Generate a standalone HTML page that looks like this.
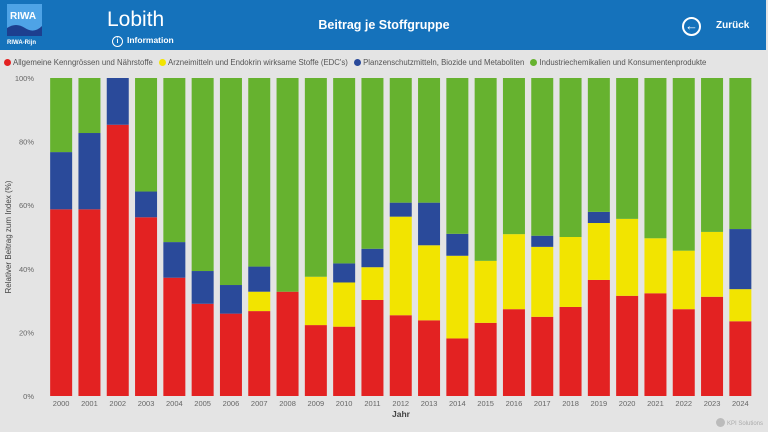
<!DOCTYPE html>
<html><head><meta charset="utf-8"><style>
body{margin:0;width:768px;height:432px;overflow:hidden;background:#e4e4e4;font-family:"Liberation Sans","DejaVu Sans",sans-serif;position:relative}
#hdr{position:absolute;left:0;top:0;width:766px;height:50px;background:#1572bb}
.t{position:absolute;color:#fff;white-space:nowrap}
#legend{position:absolute;left:4px;top:58px;font-size:7.8px;color:#555;white-space:nowrap}
.li{display:inline-block;margin-right:4px}
.dot{display:inline-block;width:7px;height:7px;border-radius:50%;vertical-align:-1px;margin-right:2px}
svg{position:absolute;left:0;top:0}
</style></head><body>
<div id="hdr">
 <div style="position:absolute;left:7px;top:4px;width:35px;height:44px">
  <div style="position:absolute;left:0;top:0;width:35px;height:32px;background:#4ea3e6"></div>
  <svg width="35" height="32" style="position:absolute;left:0;top:0"><path d="M0 24 Q9 18 18 24 T35 22 L35 32 L0 32Z" fill="#1d3f8f"/></svg>
  <div class="t" style="left:3px;top:7px;font-size:10px;font-weight:bold">RIWA</div>
  <div class="t" style="left:0;top:36px;font-size:6px;font-weight:bold">RIWA-Rijn</div>
 </div>
 <div class="t" style="left:107px;top:8px;font-size:21px">Lobith</div>
 <div class="t" style="left:112px;top:35px;font-size:8.5px;font-weight:bold"><span style="display:inline-block;width:9px;height:9px;border:1.3px solid #fff;border-radius:50%;text-align:center;line-height:9px;font-size:7px;margin-right:4px">i</span>Information</div>
 <div class="t" style="left:384px;top:18px;transform:translateX(-50%);font-size:12.5px;font-weight:bold">Beitrag je Stoffgruppe</div>
 <div style="position:absolute;left:682px;top:17px;width:15px;height:15px;border:2px solid #fff;border-radius:50%;color:#fff;font-size:13px;line-height:14px;text-align:center;font-weight:bold">←</div>
 <div class="t" style="left:716px;top:20px;font-size:10px;font-weight:bold">Zurück</div>
</div>
<div id="legend">
 <span class="li"><span class="dot" style="background:#e32222"></span>Allgemeine Kenngrössen und Nährstoffe</span>
 <span class="li"><span class="dot" style="background:#f2e400"></span>Arzneimitteln und Endokrin wirksame Stoffe (EDC's)</span>
 <span class="li"><span class="dot" style="background:#2a4a9a"></span>Planzenschutzmitteln, Biozide und Metaboliten</span>
 <span class="li"><span class="dot" style="background:#66b22f"></span>Industriechemikalien und Konsumentenprodukte</span>
</div>
<svg id="chart" width="768" height="432"></svg>
<div style="position:absolute;left:716px;top:418px;font-size:6px;color:#aaa"><span style="display:inline-block;width:9px;height:9px;border-radius:50%;background:#bbb;vertical-align:-2px;margin-right:2px"></span>KPI Solutions</div>
<script>
const years=["2000","2001","2002","2003","2004","2005","2006","2007","2008","2009","2010","2011","2012","2013","2014","2015","2016","2017","2018","2019","2020","2021","2022","2023","2024"];
const red=[58.7,58.7,85.3,56.2,37.2,29.0,25.9,26.7,32.8,22.3,21.8,30.2,25.4,23.8,18.1,23.0,27.3,24.9,28.0,36.5,31.5,32.3,27.3,31.2,23.5];
const yellow=[0,0,0,0,0,0,0,6.1,0,15.2,13.9,10.3,31.0,23.6,26.0,19.5,23.6,22.0,22.0,17.9,24.2,17.3,18.4,20.4,10.1];
const blue=[18.0,24.0,14.7,8.1,11.2,10.3,9.0,7.9,0,0,6.0,5.8,4.4,13.4,6.9,0,0,3.5,0,3.5,0,0,0,0,18.9];
const yTicks=[0,20,40,60,80,100];
const NS='http://www.w3.org/2000/svg';
const svg=document.getElementById('chart');
const x0=47,bandW=28.3,barW=22,yTop=78,yBot=396;
const y=v=>yBot-(v/100)*(yBot-yTop);
const bx=i=>x0+i*bandW+(bandW-barW)/2;
function mk(tag,at){const e=document.createElementNS(NS,tag);for(const k in at)e.setAttribute(k,at[k]);svg.appendChild(e);return e;}
yTicks.forEach(t=>{
 const tx=mk('text',{x:34,y:y(t)+3,'text-anchor':'end','font-size':7.5,fill:'#666','font-family':'Liberation Sans'});
 
 
 tx.textContent=t+'%';
});
const yt=mk('text',{x:11,y:237,'text-anchor':'middle','font-size':8,fill:'#444','font-family':'Liberation Sans',transform:'rotate(-90 11 237)'});


yt.textContent='Relativer Beitrag zum Index (%)';
const xt=mk('text',{x:401,y:417,'text-anchor':'middle','font-size':8.5,fill:'#444','font-weight':'bold','font-family':'Liberation Sans'});


xt.textContent='Jahr';
const cols=['#e32222','#f2e400','#2a4a9a','#66b22f'];
years.forEach((yr,i)=>{
 const vals=[red[i],yellow[i],blue[i]];
 const sum=vals.reduce((a,b)=>a+b,0);
 vals.push(Math.max(0,100-sum));
 let acc=0;
 vals.forEach((v,k)=>{
  if(v<=0)return;
  const r=mk('rect',{x:bx(i),y:y(acc+v),width:barW,height:y(acc)-y(acc+v),fill:cols[k]});
  
  
  acc+=v;
 });
 const l=mk('text',{x:bx(i)+barW/2,y:406,'text-anchor':'middle','font-size':7.5,fill:'#666','font-family':'Liberation Sans'});
 
 
 l.textContent=yr;
});
</script>
</body></html>
